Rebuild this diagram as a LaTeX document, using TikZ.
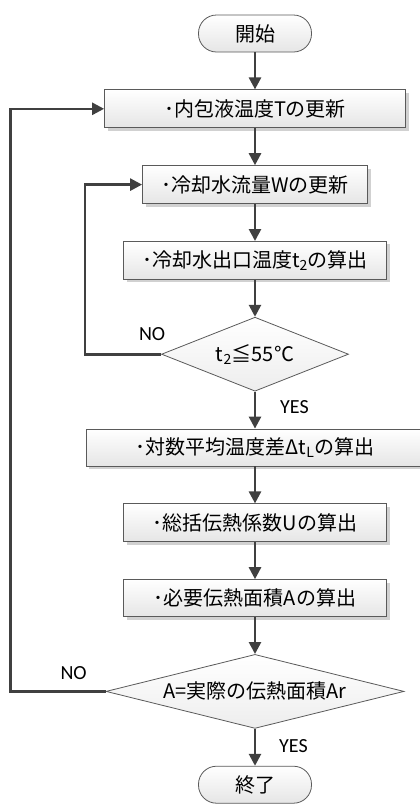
\documentclass[tikz,border=0pt]{standalone}
\usepackage{fontspec}
\setmainfont{Carlito}
\newfontfamily\jpfont{Noto Sans CJK JP}
\usepackage{tikz}
\usetikzlibrary{shapes.geometric, arrows.meta, positioning, shadows}
\definecolor{linegray}{HTML}{404040}
\definecolor{bordergray}{HTML}{5A5A5A}
\tikzstyle{terminal} = [rectangle, rounded corners=18pt, minimum width=113pt, minimum height=37pt, text centered, draw=bordergray, line width=0.8pt, top color=white, bottom color=black!10, font=\jpfont\fontsize{20}{23}\selectfont]
\tikzstyle{process} = [rectangle, minimum width=263pt, minimum height=38pt, text centered, draw=bordergray, line width=0.8pt, top color=white, bottom color=black!10, drop shadow={shadow xshift=3pt, shadow yshift=-3pt, fill=black!18, opacity=1}, font=\jpfont\fontsize{20}{23}\selectfont]
\tikzstyle{decision} = [diamond, aspect=4, inner sep=0pt, minimum width=187pt, minimum height=74pt, text centered, draw=bordergray, line width=0.8pt, top color=white, bottom color=black!7, font=\jpfont\fontsize{20}{23}\selectfont]
\tikzstyle{answer} = [inner sep=1pt, font=\fontsize{20}{23}\selectfont]
\tikzstyle{arrow} = [line width=2.6pt, draw=linegray, -{Triangle[width=12pt,length=12pt]}]

\begin{document}
\begin{tikzpicture}[node distance=37pt]
  \useasboundingbox (0,0) rectangle (420pt,-804pt);
  \node (start) [terminal] at (255pt,-33.5pt) {開始};
  \node (temp) [process, below=of start, minimum width=301pt] {･内包液温度Tの更新};
  \node (flow) [process, below=of temp, minimum width=225pt] {･冷却水流量Wの更新};
  \node (outlet) [process, below=of flow] {･冷却水出口温度t\textsubscript{2}の算出};
  \node (check) [decision, below=of outlet] {t\textsubscript{2}≦55℃};
  \node (lmtd) [process, below=of check, minimum width=338pt, minimum height=37pt] {･対数平均温度差Δt\textsubscript{L}の算出};
  \node (coef) [process, below=of lmtd] {･総括伝熱係数Uの算出};
  \node (area) [process, below=of coef, minimum height=37pt] {･必要伝熱面積Aの算出};
  \node (match) [decision, below=of area, minimum width=298pt] {A=実際の伝熱面積Ar};
  \node (stop) [terminal, below=of match] {終了};
  % labels
  \node (no1) [answer, above=12pt of check.west, xshift=-9pt] {NO};
  \node (yes1) [answer, below right=8pt and 24pt of check.south] {YES};
  \node (no2) [answer, above=11pt of match.west, xshift=-32pt] {NO};
  \node (yes2) [answer, below right=10pt and 23pt of match.south] {YES};
  % main flow
  \draw[arrow] (start) -- (temp);
  \draw[arrow] (temp) -- (flow);
  \draw[arrow] (flow) -- (outlet);
  \draw[arrow] (outlet) -- (check);
  \draw[arrow] (check) -- (lmtd);
  \draw[arrow] (lmtd) -- (coef);
  \draw[arrow] (coef) -- (area);
  \draw[arrow] (area) -- (match);
  \draw[arrow] (match) -- (stop);
  % loops
  \draw[arrow] (check.west) -- ++(-76pt,0) |- (flow.west);
  \draw[arrow] (match.west) -- ++(-95pt,0) |- (temp.west);
\end{tikzpicture}
\end{document}
